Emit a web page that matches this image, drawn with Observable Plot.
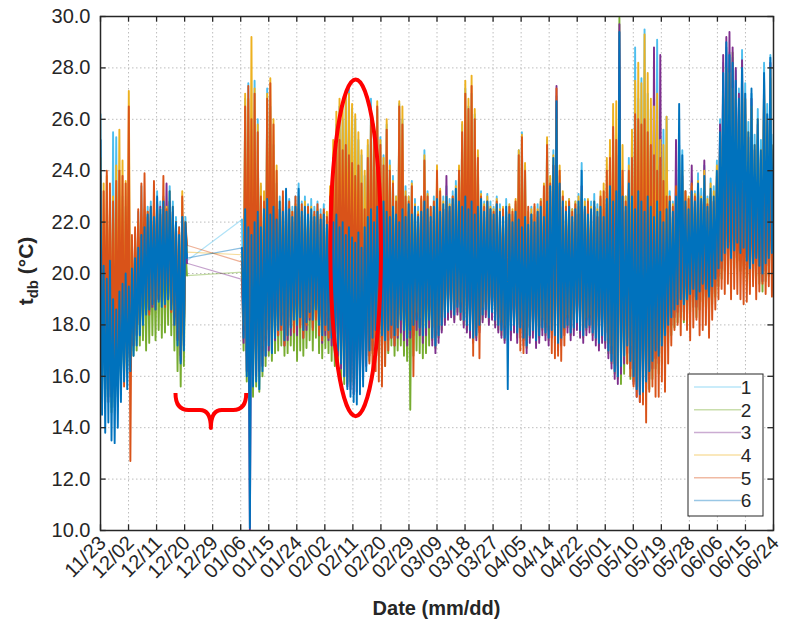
<!DOCTYPE html>
<html><head><meta charset="utf-8">
<script src="https://cdn.jsdelivr.net/npm/d3@7"></script>
<script src="https://cdn.jsdelivr.net/npm/@observablehq/plot@0.6"></script>
<style>body{margin:0;background:#fff;}</style>
</head><body><div id="chart"></div>
<script>
// ---- series meta ----
const seriesNames = ["1","2","3","4","5","6"];
const seriesColors = ["#4DBEEE","#77AC30","#7E2F8E","#EDB120","#D95319","#0072BD"];
// ---- axes ----
const xTickLabels = ["11/23","12/02","12/11","12/20","12/29","01/06","01/15","01/24","02/02","02/11","02/20","02/29","03/09","03/18","03/27","04/05","04/14","04/22","05/01","05/10","05/19","05/28","06/06","06/15","06/24"];
const yTicks = [10,12,14,16,18,20,22,24,26,28,30];
const lastDay = 214;          // days after 11/23 at 06/24
const segAStart = 0;          // first logging period starts 11/23
const segBStart = 45;         // second period starts 01/07
const halfDay = 0.5;          // readings: daily high, daily low

// ---- readings (°C), alternating daily high / low ----
const s1A = [26.2,15.0,22.0,15.2,21.5,15.5,22.4,14.8,25.5,15.0,25.3,15.6,22.5,16.0,23.0,16.4,22.6,16.2,23.0,16.8,21.2,17.0,21.6,17.4,22.4,17.8,23.4,18.2,22.0,18.5,22.6,18.6,22.8,18.8,22.5,18.7,23.2,19.0,22.8,18.9,23.0,19.0,22.6,19.2,23.4,18.8,22.8,18.2,22.2,17.6,21.8,16.8,22.4,17.4,22.2,20.5];
const s2A = [20.5,15.5,19.8,15.0,19.5,15.2,20.0,14.6,19.2,14.8,18.8,15.2,19.0,15.8,19.4,16.0,19.8,16.4,19.6,16.6,20.0,16.8,20.3,17.0,20.6,17.2,21.0,17.4,21.3,17.0,21.6,17.3,21.8,17.6,21.5,17.4,22.0,17.8,21.8,17.5,22.0,17.7,21.7,18.0,22.2,17.6,21.6,17.0,21.2,16.2,20.8,15.6,21.3,16.4,21.0,19.92];
const s3A = [21.0,15.8,20.2,15.5,20.0,15.0,20.6,15.2,19.8,15.4,19.5,15.8,19.8,16.2,20.0,16.5,20.3,16.8,20.4,17.0,20.8,17.2,21.0,17.6,21.4,18.0,21.8,18.3,22.0,18.6,22.2,18.5,22.5,18.7,22.4,18.9,22.7,19.0,22.6,19.1,22.8,19.2,23.5,19.0,22.8,18.8,22.4,18.3,22.0,17.4,21.6,16.6,22.2,17.2,21.8,20.4];
const s4A = [24.5,16.0,23.5,16.2,23.8,16.5,22.8,15.8,23.0,16.0,24.2,16.5,25.6,16.8,24.4,16.2,23.6,17.0,27.1,17.2,21.0,17.5,21.4,17.8,22.0,18.0,22.2,18.4,22.5,18.7,22.4,18.8,22.6,19.0,22.8,19.0,22.6,19.2,22.5,19.0,22.9,19.2,22.6,19.3,23.2,19.0,22.6,18.5,22.0,17.8,21.6,17.0,23.2,17.5,22.0,20.83];
const s5A = [23.8,16.5,23.2,17.0,24.0,16.2,23.5,16.0,22.8,15.8,23.6,16.4,24.0,17.0,23.8,15.6,23.5,16.8,26.5,12.7,21.5,17.2,21.8,17.8,22.5,18.0,23.5,18.2,23.9,18.5,22.4,18.4,22.6,18.8,23.6,18.6,22.8,19.0,22.3,18.9,23.8,18.7,22.5,19.1,22.8,18.5,22.4,18.0,22.0,17.5,21.8,16.8,23.0,17.6,22.0,21.1];
const s6A = [25.2,14.5,20.3,13.8,19.8,14.2,20.5,13.5,19.0,13.4,18.6,14.0,19.3,15.0,19.6,15.8,20.0,15.5,19.5,16.2,20.2,16.8,20.6,17.2,21.0,17.6,21.5,18.0,21.8,18.4,22.3,18.6,22.6,18.8,22.2,18.6,23.0,18.9,22.5,18.7,22.8,18.8,22.4,19.0,23.2,18.6,22.6,18.0,22.0,17.2,21.5,16.5,22.2,17.0,22.0,20.6];

const s1B = [22.1,17.8,26.8,16.8,27.4,16.4,25.6,16.0,27.5,16.6,26.0,16.8,23.4,17.0,23.0,17.4,27.2,17.8,26.5,17.6,
25.0,18.0,23.5,18.2,23.0,18.4,22.8,17.8,23.2,18.0,22.9,18.3,22.6,18.6,23.0,18.4,23.5,18.6,22.8,18.2,
23.0,18.5,22.7,18.8,22.9,18.6,22.6,18.9,22.8,18.4,22.5,18.0,22.7,18.4,22.3,18.2,22.6,18.0,24.5,18.2,
25.8,18.5,26.5,18.8,26.0,19.0,27.0,18.8,27.3,19.0,26.4,18.6,26.0,18.4,25.2,18.2,24.6,17.8,23.8,17.6,
25.0,17.4,26.8,17.2,25.6,17.5,26.4,17.2,25.3,17.0,24.6,17.4,25.8,17.8,24.4,18.0,23.8,17.8,23.0,18.0,
26.6,18.4,26.0,18.0,23.4,17.8,23.0,18.0,23.6,18.2,22.9,18.4,22.6,18.2,22.8,17.9,24.8,18.2,23.2,18.4,
22.6,17.8,23.0,17.6,23.5,17.9,22.8,18.2,23.0,18.5,23.4,18.7,22.9,18.8,23.2,18.6,23.6,18.9,23.0,18.7,
25.8,18.4,27.2,18.2,26.5,18.0,27.0,17.8,26.2,17.9,24.6,18.2,23.2,18.6,22.8,18.8,23.1,18.5,22.8,18.7,
22.6,18.4,23.0,18.2,22.7,18.0,22.5,17.8,22.9,18.0,22.6,18.0,22.3,18.2,22.7,17.9,24.8,18.1,25.5,17.8,
24.2,17.5,22.2,17.9,22.6,18.1,22.3,17.7,22.7,17.9,22.9,18.2,22.5,18.0,25.2,17.8,23.7,18.1,24.8,17.9,
26.9,17.6,23.8,17.8,23.0,18.2,22.6,18.3,22.9,18.0,22.5,18.2,22.8,18.4,23.1,18.1,24.3,17.9,22.9,18.2,
22.6,18.3,22.8,18.0,23.1,17.8,22.7,17.6,22.9,17.9,22.5,17.7,23.4,17.3,24.0,16.9,25.4,16.5,24.6,16.3,
24.0,16.7,23.4,17.1,23.0,17.5,24.5,16.9,25.5,16.3,28.8,15.8,26.8,15.6,27.6,15.7,29.5,16.1,27.0,16.5,
26.4,16.9,26.0,17.3,29.1,17.1,25.0,17.5,25.6,17.9,26.1,18.3,23.2,18.6,22.8,18.9,23.4,19.1,25.0,19.3,
24.8,19.1,23.2,19.3,22.9,19.5,23.6,19.7,23.2,19.3,23.9,19.6,23.3,19.9,24.2,19.7,23.0,19.4,23.7,19.8,
23.4,20.1,24.4,20.5,26.0,20.8,28.2,21.1,28.8,21.3,28.6,20.9,28.4,21.2,27.9,21.5,27.2,21.1,28.7,21.3,
27.4,20.8,25.9,20.5,27.0,20.7,25.4,20.9,26.4,20.6,25.2,20.3,28.2,20.7,26.6,20.9,28.5,21.1,25.4,20.9];

const s2B = [20.05,17.0,21.6,15.8,21.2,15.4,21.0,15.2,21.4,15.6,21.8,15.4,21.2,16.0,21.8,16.4,22.2,16.8,21.6,16.6,
21.9,16.9,21.4,17.0,22.0,17.2,21.6,16.8,22.4,16.9,21.8,17.2,21.5,17.0,21.9,16.6,22.6,17.0,21.6,16.8,
21.8,17.1,21.5,17.4,21.7,17.0,21.4,17.5,21.6,16.9,21.3,16.7,21.5,17.1,21.2,16.9,21.4,16.6,21.2,16.4,
21.5,16.2,21.0,15.9,21.2,15.7,20.8,15.7,21.0,15.8,20.6,15.7,20.4,15.9,20.8,16.2,20.3,16.5,21.0,16.8,
21.4,16.6,21.7,16.9,21.2,17.0,21.8,16.8,21.5,16.6,22.0,16.4,21.6,16.9,21.4,17.2,21.8,16.8,21.5,17.0,
21.2,17.2,21.7,16.8,21.4,16.6,21.9,14.7,21.5,16.8,21.8,17.0,21.4,16.9,21.6,16.7,22.0,16.9,21.7,17.2,
21.4,17.4,21.8,17.1,22.1,17.5,21.6,17.8,21.9,18.1,22.2,18.3,21.8,18.4,22.1,18.2,22.5,18.5,22.0,18.2,
21.8,18.0,22.2,17.8,21.7,17.6,22.0,17.4,21.5,17.5,21.8,17.8,22.1,18.2,21.6,18.4,22.0,18.1,21.7,18.3,
21.5,18.0,21.9,17.8,21.6,17.6,21.4,17.4,21.8,17.6,21.5,17.6,21.2,17.8,21.6,17.5,21.3,17.7,21.0,17.4,
21.4,17.1,21.1,17.5,21.5,17.7,21.2,17.3,21.6,17.5,21.8,17.8,21.4,17.6,22.0,17.4,22.6,17.7,23.0,17.5,
24.2,17.2,22.8,17.4,22.0,17.8,21.6,17.9,21.8,17.6,21.4,17.8,21.7,18.0,22.0,17.7,22.6,17.5,21.8,17.8,
21.5,17.9,21.7,17.6,22.0,17.4,21.6,17.2,21.8,17.5,21.4,17.3,22.1,16.9,22.6,16.5,22.0,16.1,22.4,15.9,
29.95,15.7,22.2,16.1,21.8,16.5,22.7,15.9,22.2,15.8,21.7,15.6,22.4,15.4,22.0,15.5,21.6,15.7,22.2,15.5,
21.8,15.9,21.4,16.3,22.0,16.1,21.6,16.5,21.2,16.9,21.7,17.3,22.0,17.6,21.6,17.9,22.2,18.1,23.0,18.3,
22.8,18.1,22.0,18.3,21.7,18.5,22.4,18.7,22.0,18.3,22.7,18.6,22.1,18.9,23.0,18.7,21.8,18.4,22.5,18.8,
22.2,19.1,23.2,19.5,24.5,19.8,26.8,20.1,28.0,20.3,27.5,19.9,28.6,20.2,26.8,20.5,26.0,20.1,27.2,20.3,
26.2,19.8,24.7,19.5,26.4,19.7,24.2,19.9,25.2,19.6,24.0,19.3,27.0,19.7,25.4,19.9,27.6,20.1,24.2,19.9];

const s3B = [19.77,17.3,22.0,16.2,21.8,9.9,21.6,15.8,22.0,16.0,22.2,16.2,21.8,16.4,22.2,16.8,22.6,17.0,22.0,17.0,
22.3,17.4,21.9,17.6,22.5,17.8,22.2,17.2,23.0,17.4,22.3,17.6,22.0,17.9,22.4,17.6,23.0,18.0,22.2,17.5,
22.3,17.8,22.1,18.2,22.3,17.9,22.0,18.3,22.2,17.6,21.9,17.3,22.1,17.6,21.8,17.4,22.0,17.2,21.8,17.0,
22.0,16.8,21.6,16.3,21.8,16.0,21.4,15.6,21.6,15.5,21.2,15.3,21.0,15.4,21.4,15.6,20.9,15.9,21.6,16.4,
22.0,16.8,22.2,17.0,21.8,17.2,22.3,17.0,22.0,16.8,22.4,16.9,22.2,17.4,21.9,17.5,22.3,17.2,22.0,17.5,
21.8,17.7,22.2,17.4,22.0,17.2,22.4,17.5,22.0,17.6,22.3,17.8,22.0,17.6,22.2,17.3,22.6,17.6,22.3,17.9,
22.0,17.2,22.4,16.9,22.7,17.3,22.2,17.7,22.5,18.0,23.8,18.2,22.4,18.3,22.7,18.1,23.1,18.4,22.6,18.2,
22.4,17.9,22.8,17.7,22.3,17.5,22.6,17.3,22.1,17.4,22.4,17.7,22.7,18.1,22.2,18.3,22.6,18.0,22.3,18.2,
22.1,17.9,22.5,17.7,22.2,17.5,22.0,17.3,22.4,17.4,22.1,17.4,21.8,17.7,22.2,17.3,21.9,17.5,21.6,17.2,
22.0,16.9,21.7,17.3,22.1,17.5,21.8,17.1,22.2,17.3,22.4,17.6,22.0,17.4,22.6,17.2,23.2,17.5,24.2,17.3,
27.3,17.0,23.4,17.2,22.6,17.6,22.2,17.7,22.4,17.4,22.0,17.6,22.3,17.8,22.6,17.5,23.4,17.3,22.4,17.6,
22.1,17.7,22.3,17.4,22.6,17.2,22.2,17.0,22.4,17.3,22.0,17.1,22.7,16.7,23.2,16.3,22.6,15.9,23.0,15.7,
29.7,16.1,22.8,16.5,22.4,16.9,23.3,16.3,22.8,15.7,23.5,15.2,24.0,15.0,23.2,15.1,24.5,15.5,23.8,15.9,
25.0,16.3,28.8,16.7,24.2,16.5,28.5,16.9,23.0,17.3,22.3,17.7,22.6,18.0,22.2,18.3,25.2,18.5,24.0,18.7,
23.8,18.5,22.6,18.7,22.3,18.9,24.2,19.1,22.6,18.7,23.3,19.0,22.7,19.3,24.4,19.1,22.4,18.8,23.1,19.2,
22.8,19.5,23.8,19.9,25.8,20.2,28.5,20.5,29.2,20.7,29.4,20.3,28.8,20.6,28.0,20.9,27.0,20.5,28.3,20.7,
26.8,20.2,25.3,19.9,26.8,20.1,24.8,20.3,25.8,20.0,24.6,19.7,27.6,20.1,26.0,20.3,28.2,20.5,24.8,20.3];

const s4B = [20.73,18.0,27.0,17.2,26.8,17.0,29.2,16.8,27.2,17.0,25.8,17.4,23.5,17.2,23.2,17.6,27.0,18.0,27.6,17.8,
26.0,18.2,24.2,18.4,22.8,18.5,23.0,18.0,22.8,18.2,22.6,18.4,22.4,18.6,22.7,18.5,23.0,18.6,22.5,18.3,
22.8,18.6,22.4,18.8,22.6,18.7,22.3,19.0,22.5,18.5,22.2,18.2,22.4,18.5,22.4,18.3,23.4,18.1,25.2,18.5,
26.3,18.8,26.8,19.0,26.5,19.2,26.9,19.0,27.0,19.2,26.6,18.8,26.2,18.5,25.5,18.4,24.8,18.0,24.0,17.8,
25.2,17.6,26.2,17.4,25.8,17.6,26.7,17.4,25.2,17.2,24.5,17.6,26.0,18.0,24.2,18.2,23.6,18.0,23.0,18.2,
26.7,18.5,26.5,18.2,23.2,18.0,23.0,18.2,23.5,18.4,22.7,18.5,22.4,18.3,22.9,18.0,24.6,18.3,23.1,18.5,
22.5,18.0,22.8,17.8,24.2,18.0,23.3,18.4,22.8,18.6,23.0,18.8,22.7,19.0,23.0,18.8,23.4,19.0,24.2,18.9,
25.9,18.6,27.5,18.4,26.8,18.2,27.7,18.0,26.4,18.1,24.8,18.4,23.1,18.7,22.7,19.0,23.0,18.7,22.6,18.8,
22.5,18.6,22.9,18.4,22.5,18.2,22.6,18.0,22.4,18.2,22.7,18.2,22.5,18.4,22.9,18.1,24.8,18.3,25.4,18.0,
24.3,17.7,22.4,18.0,22.5,18.2,22.6,17.9,22.5,18.0,22.9,18.3,23.5,18.1,25.3,18.0,23.8,18.2,24.6,18.0,
26.0,17.8,24.2,18.0,23.2,18.3,22.8,18.4,22.9,18.2,22.5,18.3,22.8,18.5,23.0,18.2,23.2,18.0,22.8,18.3,
22.9,18.4,22.6,18.2,22.8,18.0,22.5,17.8,23.2,18.0,23.5,17.9,24.5,17.5,25.2,17.2,26.6,16.8,26.7,16.6,
26.0,17.0,25.0,17.3,23.0,17.6,24.2,17.2,25.6,16.6,27.5,16.0,28.2,15.8,27.4,16.0,29.3,16.4,27.8,16.7,
26.8,17.0,26.5,17.4,27.0,17.3,25.2,17.6,25.0,18.0,26.1,18.4,23.0,18.7,22.7,19.0,23.2,19.2,24.6,19.4,
24.0,19.2,23.2,19.4,23.0,19.6,23.4,19.8,23.1,19.4,23.6,19.7,23.0,20.0,24.0,19.8,22.9,19.5,23.5,19.9,
23.2,20.2,24.2,20.6,25.2,20.9,27.0,21.2,28.0,21.4,27.8,21.0,27.2,21.3,27.0,21.6,26.5,21.2,27.6,21.4,
26.8,20.9,25.5,20.6,26.5,20.8,25.0,21.0,26.0,20.7,24.8,20.4,27.5,20.8,26.0,21.0,28.0,21.2,25.0,21.0];

const s5B = [20.44,17.8,26.5,17.0,27.3,16.5,26.0,16.8,27.0,17.2,25.5,17.5,23.0,17.0,22.8,17.4,26.8,17.8,27.4,17.5,
25.8,18.0,24.0,17.6,22.5,17.8,23.2,17.2,22.6,17.6,22.8,18.0,22.4,17.7,23.0,18.2,22.5,17.9,22.7,17.5,
22.3,18.0,22.6,18.3,22.2,17.8,22.4,18.2,22.7,17.6,22.3,17.4,22.5,17.8,22.2,17.5,23.0,17.6,24.5,18.0,
25.0,18.5,25.2,18.8,24.8,19.0,25.0,18.6,24.6,18.8,24.3,18.5,23.8,18.2,24.2,18.0,23.5,17.5,22.5,17.0,
24.5,16.5,26.0,16.0,25.4,16.2,26.5,15.8,25.0,15.6,24.2,16.4,25.6,17.0,24.0,17.5,23.5,17.2,22.8,17.6,
26.5,18.4,25.8,18.2,23.0,17.9,22.8,18.1,23.4,16.0,22.6,18.4,22.3,18.3,23.0,18.0,24.4,18.2,23.0,18.5,
22.6,17.9,22.8,17.6,24.0,18.0,23.2,18.3,22.5,18.6,22.8,18.8,22.6,18.9,23.0,18.7,22.7,19.0,24.0,18.8,
25.5,18.5,27.0,18.3,26.4,18.1,27.3,16.8,26.0,17.9,24.5,16.7,23.0,18.7,22.6,18.9,22.8,18.6,22.5,18.8,
22.4,18.5,22.8,18.3,22.3,18.1,22.5,17.9,22.2,17.9,22.6,18.1,22.4,18.3,22.8,18.0,24.6,17.0,25.3,16.9,
24.0,17.4,22.6,17.9,22.3,18.1,22.7,17.7,22.4,17.9,22.8,18.2,23.4,17.9,25.0,17.8,23.5,16.9,24.2,16.7,
27.2,16.8,24.0,16.6,23.0,17.2,22.6,18.3,22.8,18.0,22.4,18.2,22.7,18.4,22.3,18.1,22.9,17.9,22.5,18.2,
22.8,18.3,22.4,18.0,22.6,17.8,22.2,17.6,23.0,17.9,23.2,17.7,24.0,17.3,24.5,16.9,25.7,16.5,25.2,16.4,
24.8,16.6,24.0,16.8,22.8,16.5,24.0,16.0,24.5,15.6,26.2,15.2,26.0,15.0,25.8,14.9,26.0,14.2,25.5,15.4,
25.0,15.6,24.6,15.2,24.0,15.2,24.5,15.8,23.6,15.4,23.0,16.5,23.0,17.2,22.6,17.8,23.4,18.0,23.0,17.6,
22.8,18.2,23.2,17.8,22.9,17.4,23.5,17.9,23.0,18.2,23.4,17.6,22.8,17.8,23.2,18.0,22.7,17.5,23.0,18.2,
22.8,18.6,23.2,19.0,24.0,19.4,24.5,19.2,25.0,19.6,24.2,19.0,25.2,19.4,24.6,19.2,24.0,19.0,23.5,18.8,
24.2,18.9,23.6,19.2,24.0,19.5,23.2,19.0,23.8,19.3,23.4,19.6,24.2,19.2,23.6,19.5,24.4,19.1,23.8,19.4];

const s6B = [21.0,17.5,22.5,16.0,21.8,10.1,21.5,15.6,22.0,15.8,22.4,15.5,21.8,16.2,22.5,16.8,22.9,17.2,22.3,16.9,
22.6,17.5,22.1,17.8,22.8,18.0,22.4,17.4,23.3,17.6,22.5,17.9,22.2,18.2,22.6,18.0,23.3,18.3,22.4,17.8,
22.6,18.1,22.3,18.5,22.5,18.2,22.2,18.6,22.4,18.0,22.1,17.6,22.3,18.0,21.9,17.8,22.2,17.5,22.0,17.3,
22.3,17.0,21.8,16.5,22.0,16.0,21.5,15.5,21.8,15.2,21.4,15.0,21.2,14.9,21.6,15.3,21.0,15.6,21.8,16.2,
22.2,17.0,22.5,17.5,22.0,17.8,22.6,18.0,22.3,17.6,22.8,17.4,22.4,17.8,22.2,18.0,22.6,17.6,22.3,17.9,
22.0,18.2,22.5,17.8,22.2,17.5,22.7,17.8,22.3,18.0,22.6,18.2,22.2,17.9,22.4,17.6,22.8,17.9,22.5,18.2,
22.2,17.5,22.6,17.2,22.9,17.6,22.4,18.0,22.7,18.3,23.0,18.5,22.6,18.6,22.9,18.4,23.3,18.7,22.8,18.5,
22.6,18.2,23.0,18.0,22.5,17.8,22.8,17.5,22.3,17.6,22.6,18.0,22.9,18.4,22.4,18.6,22.8,18.3,22.5,18.5,
22.3,18.2,22.7,18.0,22.4,17.8,22.2,17.5,22.6,15.5,22.3,17.8,22.0,18.0,22.4,17.7,22.1,17.9,21.8,17.5,
22.2,17.2,21.9,17.6,22.3,17.8,22.0,17.4,22.4,17.6,22.6,17.9,22.2,17.7,22.8,17.5,23.4,17.8,24.5,17.6,
26.7,17.3,23.5,17.5,22.8,17.9,22.4,18.0,22.6,17.7,22.2,17.9,22.5,18.1,22.8,17.8,24.0,17.6,22.6,17.9,
22.3,18.0,22.5,17.7,22.8,17.5,22.4,17.3,22.6,17.6,22.2,17.4,22.9,17.0,23.4,16.6,22.8,16.2,23.2,16.0,
29.4,16.4,23.0,16.8,22.6,17.2,23.5,16.6,23.0,16.0,22.5,15.5,23.2,15.3,22.8,15.4,22.4,15.8,23.0,16.2,
22.6,16.6,22.2,17.0,22.8,16.8,22.4,17.2,22.0,17.6,22.5,18.0,22.8,18.3,22.4,18.6,23.0,18.8,26.6,19.0,
24.6,18.8,22.8,19.0,22.5,19.2,23.2,19.4,22.8,19.0,23.5,19.3,22.9,19.6,23.8,19.4,22.6,19.1,23.3,19.5,
23.0,19.8,24.0,20.2,25.5,20.5,27.8,20.8,29.0,21.0,28.5,20.6,28.2,20.9,27.5,21.2,26.8,20.8,28.0,21.0,
27.0,20.5,25.5,20.2,27.2,20.4,25.0,20.6,26.0,20.3,24.8,20.0,27.8,20.4,26.2,20.6,28.4,20.8,25.0,20.6];

// ---- annotation anchors (data coordinates) ----
const ellipseAt = {day: 81.3, t: 20.98, halfDays: 8.05, halfT: 6.55};
const braceAt = {from: 24.0, to: 46.5, top: 15.33, mid: 14.67, tip: 13.97};

// ---- build ----
const step = lastDay / (xTickLabels.length - 1);
const tickPos = xTickLabels.map((_, i) => i * step);
const rows = (vals, start) => vals.map((t, i) => ({day: start + i * halfDay, t}));
const seriesA = [s1A, s2A, s3A, s4A, s5A, s6A];
const seriesB = [s1B, s2B, s3B, s4B, s5B, s6B];
const ink = "#262626";
const grid = {stroke: "#bdbdbd", strokeDasharray: "1.5,2.5", strokeWidth: 1};
const lineW = 1.9;

const marks = [
  Plot.ruleX(tickPos, grid),
  Plot.ruleY(yTicks, grid)
];
seriesA.forEach((a, k) => {
  const b = seriesB[k];
  marks.push(Plot.line(
    [{day: segAStart + (a.length - 1) * halfDay, t: a[a.length - 1]}, {day: segBStart, t: b[0]}],
    {x: "day", y: "t", stroke: seriesColors[k], strokeOpacity: 0.45, strokeWidth: 1.2}));
});
seriesA.forEach((a, k) => {
  marks.push(Plot.line(rows(a, segAStart), {x: "day", y: "t", stroke: seriesColors[k], strokeWidth: lineW, clip: true}));
  marks.push(Plot.line(rows(seriesB[k], segBStart), {x: "day", y: "t", stroke: seriesColors[k], strokeWidth: lineW, clip: true}));
});
marks.push(
  Plot.frame({stroke: ink, strokeWidth: 1.5}),
  Plot.ruleX(tickPos, {y1: 10, y2: 10.22, stroke: ink, strokeWidth: 1.3}),
  Plot.ruleX(tickPos, {y1: 30, y2: 29.78, stroke: ink, strokeWidth: 1.3}),
  Plot.ruleY(yTicks, {x1: 0, x2: 1.8, stroke: ink, strokeWidth: 1.3}),
  Plot.ruleY(yTicks, {x1: lastDay, x2: lastDay - 1.8, stroke: ink, strokeWidth: 1.3}),
  Plot.axisX(tickPos, {tickFormat: d => xTickLabels[Math.round(d / step)], tickRotate: -45, tickSize: 0, tickPadding: 9, dx: 2, fontSize: 20, color: ink, label: null}),
  Plot.axisY(yTicks, {tickFormat: d3.format(".1f"), tickSize: 0, tickPadding: 10, fontSize: 20, color: ink, label: null})
);

const plot = Plot.plot({
  width: 785, height: 621,
  marginLeft: 100, marginRight: 12, marginTop: 16, marginBottom: 91,
  style: {fontFamily: "'Liberation Sans', Arial, Helvetica, sans-serif", fontSize: "20px", background: "#fff", color: ink},
  x: {domain: [0, lastDay]},
  y: {domain: [10, 30]},
  marks
});
document.getElementById("chart").appendChild(plot);

const sx = plot.scale("x"), sy = plot.scale("y");
const svg = d3.select(plot);
const font = "'Liberation Sans', Arial, Helvetica, sans-serif";

// red ellipse
const cx = sx.apply(ellipseAt.day), cy = sy.apply(ellipseAt.t);
svg.append("ellipse").attr("cx", cx).attr("cy", cy)
  .attr("rx", sx.apply(ellipseAt.day + ellipseAt.halfDays) - cx)
  .attr("ry", sy.apply(ellipseAt.t - ellipseAt.halfT) - cy)
  .attr("fill", "none").attr("stroke", "#ff0000").attr("stroke-width", 4);

// red curly brace under the gap
const xL = sx.apply(braceAt.from), xR = sx.apply(braceAt.to), xM = (xL + xR) / 2;
const yT = sy.apply(braceAt.top), yM = sy.apply(braceAt.mid), yP = sy.apply(braceAt.tip);
svg.append("path")
  .attr("d", `M${xL},${yT} Q${xL},${yM} ${xL + 13},${yM} L${xM - 11},${yM} Q${xM},${yM} ${xM},${yP} Q${xM},${yM} ${xM + 11},${yM} L${xR - 13},${yM} Q${xR},${yM} ${xR},${yT}`)
  .attr("fill", "none").attr("stroke", "#ff0000").attr("stroke-width", 4).attr("stroke-linejoin", "round");

// axis titles
const yl = svg.append("text").attr("transform", "translate(33,271) rotate(-90)")
  .attr("text-anchor", "middle").attr("font-family", font).attr("font-weight", "bold").attr("font-size", 21).attr("fill", ink);
yl.append("tspan").text("t");
yl.append("tspan").attr("font-size", 15).attr("dy", 5).text("db");
yl.append("tspan").attr("dy", -5).text(" (°C)");
svg.append("text").attr("x", (sx.apply(0) + sx.apply(lastDay)) / 2).attr("y", 615)
  .attr("text-anchor", "middle").attr("font-family", font).attr("font-weight", "bold").attr("font-size", 20).attr("fill", ink)
  .text("Date (mm/dd)");

// legend
const lg = svg.append("g");
lg.append("rect").attr("x", 688).attr("y", 374).attr("width", 75).attr("height", 142)
  .attr("fill", "#fff").attr("stroke", ink).attr("stroke-width", 1);
seriesNames.forEach((name, i) => {
  const y = 387 + i * 22.7;
  lg.append("line").attr("x1", 694).attr("x2", 741).attr("y1", y).attr("y2", y)
    .attr("stroke", seriesColors[i]).attr("stroke-opacity", 0.4).attr("stroke-width", 1.5);
  lg.append("text").attr("x", 746).attr("y", y).attr("dy", "0.36em").attr("font-family", font)
    .attr("font-size", 19).attr("fill", ink).text(name);
});
</script>
</body></html>
